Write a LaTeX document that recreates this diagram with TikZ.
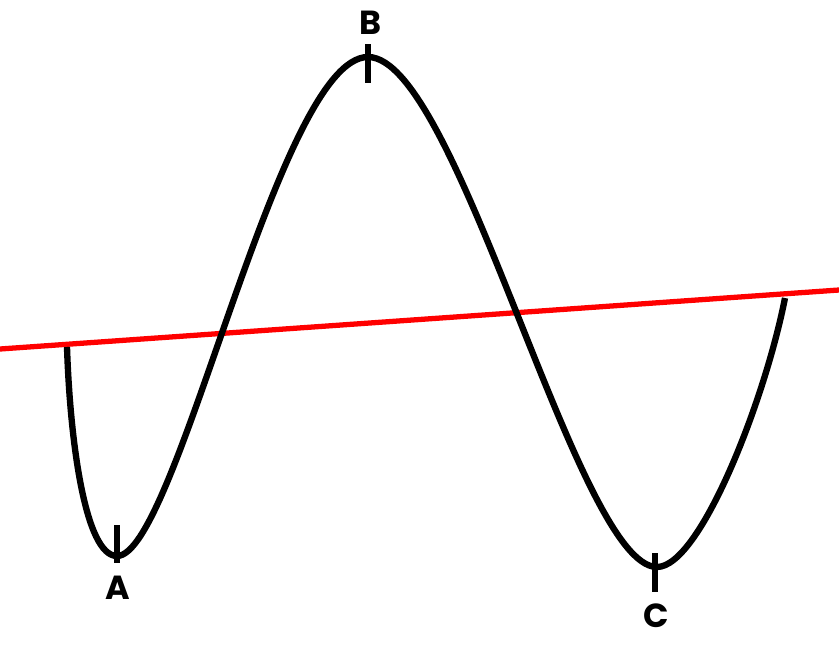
\documentclass[tikz,border=0pt]{standalone}
\usepackage{fontspec}
\setmainfont{Poppins}
\usepackage{tikz}
\definecolor{linered}{RGB}{255,0,0}
\tikzset{
	wave/.style={black,line width=3.6pt},
	tick/.style={black,line width=3pt},
	lab/.style={font=\fontsize{19}{21}\selectfont\bfseries,inner sep=0pt}
}
\begin{document}
\begin{tikzpicture}[x=0.02cm,y=-0.02cm]
			\useasboundingbox (0,0) rectangle (839,666);
			\coordinate (s) at (67,347);
			\coordinate (a) at (117,556);
			\coordinate (b) at (368,57);
			\coordinate (c) at (657,567);
			\coordinate (e) at (785,298);
			\draw [linered,line width=3pt] (0,349)-- (839,290);
			\draw [wave] (s) .. controls (70,440) and (85,556) .. (a)
				.. controls (177,556) and (278,57) .. (b)
				.. controls (458,57) and (577,567) .. (c)
				.. controls (700,567) and (765,400) .. (e);
			\draw [tick] (117,525)-- (117,563);
			\draw [tick] (368,44)-- (368,83);
			\draw [tick] (655,553)-- (655,592);
			\node [lab] (la) at (118,588) {A};
			\node [lab] (lb) at (370,23) {B};
			\node [lab] (lc) at (656,616) {C};
		\end{tikzpicture}
\end{document}
